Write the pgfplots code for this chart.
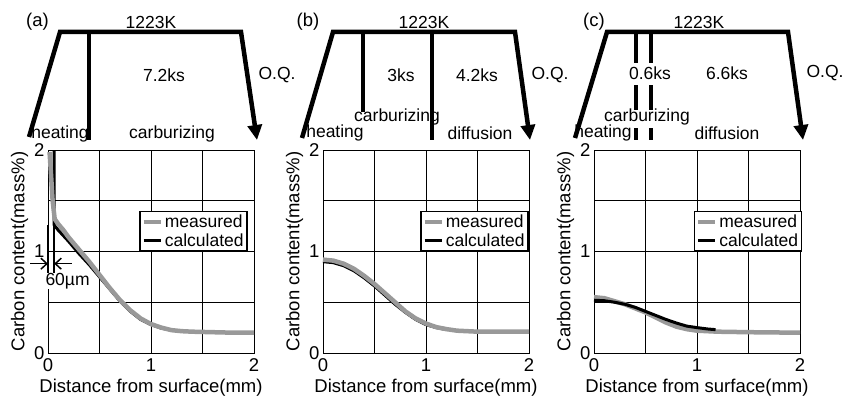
\documentclass[border=0pt]{standalone}
\usepackage{pgfplots}
\pgfplotsset{compat=1.18}
\usepackage{fontspec}
\setmainfont{Liberation Sans}
\usetikzlibrary{arrows.meta}
\newcommand{\fs}{\fontsize{17.5}{19}\selectfont}
\newcommand{\fl}{\fontsize{18.5}{20}\selectfont}
\newcommand{\ft}{\fontsize{18.5}{20}\selectfont}
\pgfplotsset{
  cplot/.style={
    scale only axis, width=206pt, height=203pt,
    anchor=south west,
    xmin=0,xmax=2,ymin=0,ymax=2,
    xtick={0,1,2}, ytick={0,1,2},
    minor xtick={0.5,1.5}, minor ytick={0.5,1.5},
    grid=both,
    major grid style={black, line width=0.7pt},
    minor grid style={black, line width=0.7pt},
    major tick length=0pt, minor tick length=0pt,
    axis line style={line width=1pt},
    tick label style={font=\ft},
    xticklabel style={yshift=-2pt},
    xlabel style={font=\fl, yshift=-1pt},
    ylabel style={font=\fl, yshift=-1pt},
    /pgf/number format/assume math mode=true,
    xlabel={Distance from surface(mm)},
    ylabel={Carbon content(mass\%)},
    legend cell align=left,
    legend style={font=\fontsize{17.5}{18}\selectfont, draw=black, line width=1.5pt,
      inner sep=1.5pt, anchor=north west, row sep=0pt},
    clip=false,
  },
  meas/.style={color=gray!80, line width=4.5pt, line join=round},
  calc/.style={color=black, line width=3pt, line join=round},
  sch/.style={black, line width=4.5pt, line join=miter},
}
\begin{document}
\begin{tikzpicture}
\useasboundingbox (0,0) rectangle (842pt,397pt);
% ---------- schematics ----------
\begin{axis}[at={(0,0)}, anchor=south west, scale only axis, width=842pt, height=397pt,
  xmin=0,xmax=842,ymin=0,ymax=397, y dir=reverse, hide axis, clip=false]
% (a)
\addplot[sch, -{Triangle[length=15pt,width=14pt]}] coordinates {(29,137) (60,32) (241,32) (257,140)};
\addplot[sch] coordinates {(89,32) (89,140)};
% (b)
\addplot[sch, -{Triangle[length=15pt,width=14pt]}] coordinates {(302,138) (333,32) (515,32) (530,140)};
\addplot[sch] coordinates {(363,32) (363,112)};
\addplot[sch] coordinates {(432,32) (432,140)};
% (c)
\addplot[sch, -{Triangle[length=15pt,width=14pt]}] coordinates {(575,138) (607,32) (788,32) (803,140)};
\addplot[sch] coordinates {(636,32) (636,63)};
\addplot[sch] coordinates {(636,85) (636,110)};
\addplot[sch] coordinates {(636,128) (636,140)};
\addplot[sch] coordinates {(651,32) (651,63)};
\addplot[sch] coordinates {(651,85) (651,110)};
\addplot[sch] coordinates {(651,128) (651,140)};
% texts
\node[font=\fl] at (axis cs:37.5,22) {(a)};
\node[font=\fs] at (axis cs:151,22) {1223K};
\node[font=\fs] at (axis cs:164,75) {7.2ks};
\node[font=\fs] at (axis cs:277,75) {O.Q.};
\node[font=\fs] at (axis cs:60,134) {heating};
\node[font=\fs] at (axis cs:172,134) {carburizing};
\node[font=\fl] at (axis cs:308,22) {(b)};
\node[font=\fs] at (axis cs:424,22) {1223K};
\node[font=\fs] at (axis cs:401,75) {3ks};
\node[font=\fs] at (axis cs:477,75) {4.2ks};
\node[font=\fs] at (axis cs:550,75) {O.Q.};
\node[font=\fs] at (axis cs:397,117) {carburizing};
\node[font=\fs] at (axis cs:335,133) {heating};
\node[font=\fs] at (axis cs:480,133) {diffusion};
\node[font=\fl] at (axis cs:594,22) {(c)};
\node[font=\fs] at (axis cs:699,22) {1223K};
\node[font=\fs] at (axis cs:650,73) {0.6ks};
\node[font=\fs] at (axis cs:727,73) {6.6ks};
\node[font=\fs] at (axis cs:825,73) {O.Q.};
\node[font=\fs] at (axis cs:647,117) {carburizing};
\node[font=\fs] at (axis cs:603,133) {heating};
\node[font=\fs] at (axis cs:727,133) {diffusion};
\end{axis}
% ---------- (a) ----------
\begin{axis}[cplot, at={(48pt,44pt)}, legend style={at={(0.442,0.70)}}]
\addlegendimage{meas}\addlegendentry{measured}
\addlegendimage{calc}\addlegendentry{calculated}
\addplot[calc, forget plot] coordinates {(0.06,2.0) (0.06,1.26) (0.1,1.21) (0.2,1.1) (0.3,0.98) (0.4,0.87) (0.5,0.75) (0.6,0.63) (0.7,0.51) (0.8,0.41) (0.9,0.33) (1.0,0.28) (1.1,0.245) (1.2,0.225) (1.3,0.215)};
\addplot[meas, forget plot] coordinates {(0.015,1.98) (0.03,1.75) (0.045,1.5) (0.065,1.32) (0.1,1.27) (0.15,1.21) (0.2,1.14) (0.3,1.02) (0.4,0.9) (0.5,0.77) (0.6,0.64) (0.7,0.52) (0.8,0.42) (0.9,0.34) (1.0,0.285) (1.1,0.25) (1.2,0.225) (1.3,0.215) (1.4,0.21) (1.6,0.205) (1.8,0.2) (2.0,0.2)};
% 60 um dimension
\addplot[black, line width=1.5pt, forget plot] coordinates {(0,1.26) (0,0.79)};
\addplot[black, line width=1.5pt, forget plot] coordinates {(0.06,1.26) (0.06,0.79)};
\addplot[black, line width=1.5pt, -{Straight Barb[length=6pt,width=11pt]}, forget plot] coordinates {(-0.17,0.88) (0,0.88)};
\addplot[black, line width=1.5pt, -{Straight Barb[length=6pt,width=11pt]}, forget plot] coordinates {(0.23,0.88) (0.06,0.88)};
\node[font=\fs, fill=white, inner sep=0.5pt] at (axis cs:0.19,0.71) {60µm};
\end{axis}
% ---------- (b) ----------
\begin{axis}[cplot, at={(323pt,44pt)}, legend style={at={(0.471,0.70)}}]
\addlegendimage{meas}\addlegendentry{measured}
\addlegendimage{calc}\addlegendentry{calculated}
\addplot[calc, forget plot] coordinates {(0,0.9) (0.1,0.89) (0.2,0.86) (0.3,0.81) (0.4,0.74) (0.5,0.66) (0.6,0.57) (0.7,0.48) (0.8,0.4) (0.9,0.33) (1.0,0.28) (1.1,0.25) (1.2,0.23)};
\addplot[meas, forget plot] coordinates {(0,0.92) (0.1,0.91) (0.2,0.88) (0.3,0.83) (0.4,0.76) (0.5,0.68) (0.6,0.59) (0.7,0.5) (0.8,0.41) (0.9,0.34) (1.0,0.29) (1.1,0.255) (1.2,0.235) (1.3,0.22) (1.5,0.21) (1.75,0.21) (2.0,0.21)};
\end{axis}
% ---------- (c) ----------
\begin{axis}[cplot, at={(594pt,44pt)}, legend style={at={(0.483,0.70)}}]
\addlegendimage{meas}\addlegendentry{measured}
\addlegendimage{calc}\addlegendentry{calculated}
\addplot[meas, forget plot] coordinates {(0,0.55) (0.1,0.54) (0.2,0.51) (0.3,0.48) (0.4,0.44) (0.5,0.4) (0.6,0.35) (0.7,0.3) (0.8,0.26) (0.9,0.235) (1.0,0.22) (1.2,0.21) (1.5,0.205) (2.0,0.2)};
\addplot[calc, forget plot] coordinates {(0,0.52) (0.1,0.515) (0.2,0.5) (0.3,0.48) (0.4,0.45) (0.5,0.41) (0.6,0.37) (0.7,0.33) (0.8,0.295) (0.9,0.265) (1.0,0.25) (1.1,0.237) (1.18,0.23)};
\end{axis}
\end{tikzpicture}
\end{document}
